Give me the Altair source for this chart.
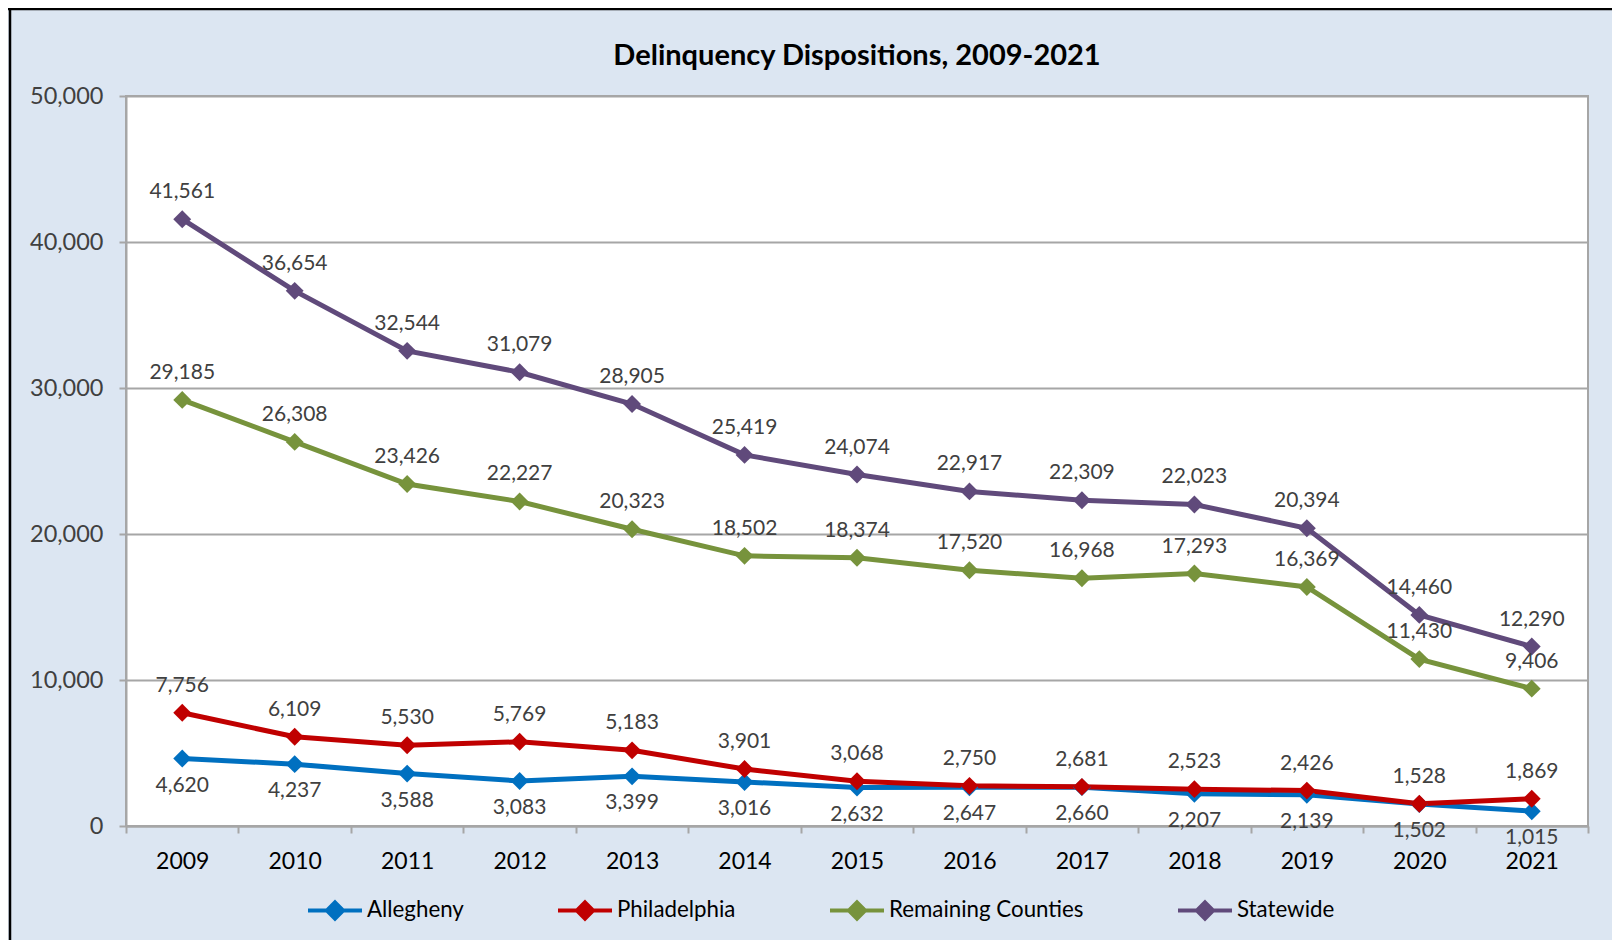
import altair as alt
import pandas as pd

years = ["2009", "2010", "2011", "2012", "2013", "2014", "2015", "2016", "2017", "2018", "2019", "2020", "2021"]
series_names = ["Allegheny", "Philadelphia", "Remaining Counties", "Statewide"]
allegheny = [4620, 4237, 3588, 3083, 3399, 3016, 2632, 2647, 2660, 2207, 2139, 1502, 1015]
philadelphia = [7756, 6109, 5530, 5769, 5183, 3901, 3068, 2750, 2681, 2523, 2426, 1528, 1869]
remaining = [29185, 26308, 23426, 22227, 20323, 18502, 18374, 17520, 16968, 17293, 16369, 11430, 9406]
statewide = [41561, 36654, 32544, 31079, 28905, 25419, 24074, 22917, 22309, 22023, 20394, 14460, 12290]
colors = ["#0070C0", "#C00000", "#77933C", "#604A7B"]
y_ticks = [0, 10000, 20000, 30000, 40000, 50000]

rows = []
for name, vals in zip(series_names, [allegheny, philadelphia, remaining, statewide]):
    for yr, v in zip(years, vals):
        rows.append({"year": yr, "value": v, "series": name})
df = pd.DataFrame(rows)

FONT = "Lato"
W, H = 1462, 730
PAD = {"left": 118, "top": 88, "right": 24, "bottom": 114}

x = alt.X(
    "year:O",
    bandPosition=0.5,
    sort=years,
    scale=alt.Scale(type="band", paddingInner=0, paddingOuter=0),
    axis=alt.Axis(
        title=None, labelAngle=0, tickBand="extent", grid=False,
        labelFontSize=23, labelColor="#000000", labelFont=FONT,
        tickSize=7, tickWidth=2, tickColor="#A6A6A6",
        domainColor="#A6A6A6", domainWidth=2, labelPadding=17,
    ),
)
y = alt.Y(
    "value:Q",
    scale=alt.Scale(domain=[0, 50000], nice=False),
    axis=alt.Axis(
        title=None, values=y_ticks, format=",.0f", grid=True,
        gridColor="#A6A6A6", gridWidth=2,
        labelFontSize=23.5, labelColor="#404040", labelFont=FONT,
        tickSize=7, tickWidth=2, tickColor="#A6A6A6",
        domainColor="#A6A6A6", domainWidth=2, labelPadding=16,
    ),
)

legend = alt.Legend(
    title=None, orient="none", legendX=180, legendY=785,
    direction="horizontal", columns=4, columnPadding=86,
    symbolType="M-1,0L1,0M0,-0.3L0.3,0L0,0.3L-0.3,0Z",
    symbolSize=2916, symbolStrokeWidth=4,
    labelFontSize=22.3, labelFont=FONT, labelColor="#000000",
    labelOffset=3, labelLimit=400, padding=0,
)
color = alt.Color(
    "series:N",
    sort=series_names,
    scale=alt.Scale(domain=series_names, range=colors),
    legend=legend,
)

base = alt.Chart(df)
lines = base.mark_line(strokeWidth=5).encode(x=x, y=y, color=color)
points = base.mark_point(shape="diamond", filled=True, size=320, opacity=1).encode(
    x=x, y=y, color=color
)
labels_above = base.transform_filter(alt.datum.series != "Allegheny").mark_text(
    dy=-27, fontSize=21, font=FONT, color="#404040"
).encode(x=x, y=y, text=alt.Text("value:Q", format=",.0f"))
labels_below = base.transform_filter(alt.datum.series == "Allegheny").mark_text(
    dy=27, fontSize=21, font=FONT, color="#404040"
).encode(x=x, y=y, text=alt.Text("value:Q", format=",.0f"))

one = alt.Chart(pd.DataFrame({"k": [0]}))
border_top = one.mark_rule(color="#000000", strokeWidth=2.5).encode(
    x=alt.value(-PAD["left"]), x2=alt.value(W + PAD["right"]), y=alt.value(-PAD["top"] + 1)
)
border_left = one.mark_rule(color="#000000", strokeWidth=2.5).encode(
    x=alt.value(-PAD["left"] + 2), y=alt.value(-PAD["top"]), y2=alt.value(H + PAD["bottom"])
)

chart = alt.layer(lines, points, labels_above, labels_below, border_top, border_left).properties(
    width=W, height=H,
    padding=PAD,
    autosize=alt.AutoSizeParams(type="none"),
    background="#DCE6F2",
    title=alt.Title(
        "Delinquency Dispositions, 2009-2021", fontSize=29, fontWeight="bold",
        font=FONT, color="#000000", anchor="middle", frame="group", offset=-64,
    ),
).configure_view(fill="#FFFFFF", stroke="#A6A6A6", strokeWidth=2)

chart.save("out.html", embed_options={"renderer": "svg", "actions": False})
